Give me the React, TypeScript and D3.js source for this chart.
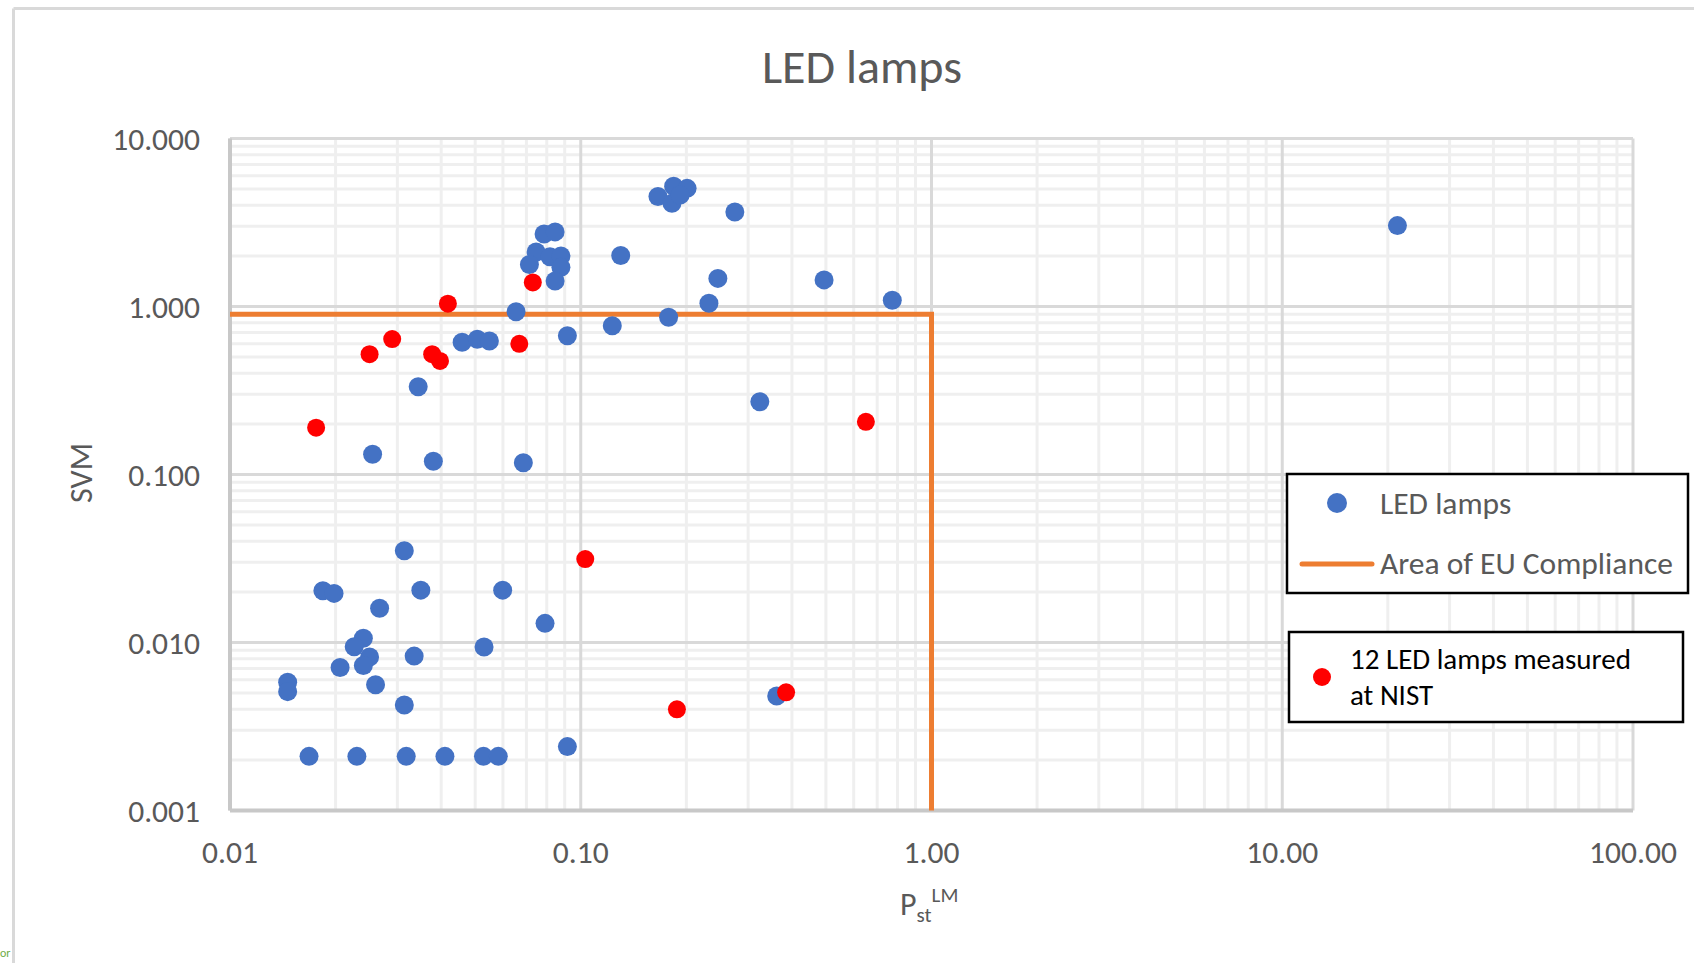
import React from "react";
import * as d3 from "d3";

// Pst(LM) and SVM values of the surveyed LED lamps
const ledPst = [
  0.0344, 0.0255, 0.038, 0.0686, 0.0459, 0.0507, 0.0549, 0.0654, 0.0916,
  0.0786, 0.0845, 0.0746, 0.0714, 0.0817, 0.0878, 0.0878, 0.0845,
  0.130, 0.123, 0.178, 0.232, 0.246,
  0.166, 0.184, 0.201, 0.182, 0.192,
  0.275, 0.494, 0.773, 0.324, 21.3,
  0.0314, 0.0184, 0.0198, 0.035, 0.0267, 0.0599, 0.0791, 0.024, 0.0226,
  0.025, 0.024, 0.0206, 0.0335, 0.053, 0.0146, 0.0146, 0.026, 0.0314,
  0.0168, 0.023, 0.0318, 0.041, 0.0528, 0.0582, 0.0916, 0.362,
];
const ledSvm = [
  0.333, 0.132, 0.120, 0.1175, 0.612, 0.638, 0.623, 0.931, 0.670,
  2.70, 2.78, 2.11, 1.78, 1.98, 2.00, 1.71, 1.42,
  2.01, 0.769, 0.862, 1.045, 1.47,
  4.52, 5.2, 5.05, 4.11, 4.61,
  3.65, 1.44, 1.09, 0.271, 3.03,
  0.0352, 0.0203, 0.0196, 0.0205, 0.016, 0.0205, 0.013, 0.0106, 0.00944,
  0.0082, 0.0073, 0.0071, 0.0083, 0.0094, 0.0058, 0.0051, 0.0056, 0.00425,
  0.0021, 0.0021, 0.0021, 0.0021, 0.0021, 0.0021, 0.0024, 0.0048,
];

// The 12 lamps measured at NIST
const nistPst = [0.0176, 0.025, 0.029, 0.0377, 0.0397, 0.0418, 0.0668, 0.073, 0.65, 0.103, 0.188, 0.385];
const nistSvm = [0.19, 0.52, 0.64, 0.52, 0.474, 1.04, 0.60, 1.39, 0.206, 0.0314, 0.0040, 0.00505];

// Boundary of the EU compliance region (SVM <= 0.9, Pst <= 1)
const euPst = [0.01, 1.0, 1.0];
const euSvm = [0.9, 0.9, 0.001];

const xTicks = [0.01, 0.1, 1, 10, 100];
const xTickLabels = ["0.01", "0.10", "1.00", "10.00", "100.00"];
const yTicks = [0.001, 0.01, 0.1, 1, 10];
const yTickLabels = ["0.001", "0.010", "0.100", "1.000", "10.000"];

const FONT = "Carlito, Calibri, Lato, 'Open Sans', sans-serif";
const GREY_TEXT = "#595959";

export default function App() {
  const left = 230, right = 1633, top = 138.5, bottom = 810.5;
  const x = d3.scaleLog().domain([0.01, 100]).range([left, right]);
  const y = d3.scaleLog().domain([0.001, 10]).range([bottom, top]);

  const minorX: number[] = [];
  for (let e = -2; e < 2; e++) for (let m = 2; m <= 9; m++) minorX.push(m * Math.pow(10, e));
  const minorY: number[] = [];
  for (let e = -3; e < 1; e++) for (let m = 2; m <= 9; m++) minorY.push(m * Math.pow(10, e));

  const euLine = d3
    .line<number>()
    .x((_, i) => x(euPst[i]))
    .y((_, i) => y(euSvm[i]))(euPst.map((_, i) => i));

  return (
    <div style={{ position: "absolute", left: 0, top: 0 }}>
      <svg width={1694} height={963} style={{ display: "block", background: "#fff" }} fontFamily={FONT}>
        {/* chart frame */}
        <line x1={13.5} y1={8.5} x2={1694} y2={8.5} stroke="#d9d9d9" strokeWidth={3} />
        <line x1={13.5} y1={8.5} x2={13.5} y2={963} stroke="#d9d9d9" strokeWidth={3} />
        <text x={0} y={957} fontSize={12} fill="#70ad47">or</text>

        <text x={862} y={66} textAnchor="middle" dominantBaseline="central" fontSize={48} fill={GREY_TEXT}>
          LED lamps
        </text>

        {/* minor gridlines */}
        <g stroke="#efefef" strokeWidth={3}>
          {minorX.map((v) => (
            <line key={"mx" + v} x1={x(v)} x2={x(v)} y1={top} y2={bottom} />
          ))}
          {minorY.map((v) => (
            <line key={"my" + v} x1={left} x2={right} y1={y(v)} y2={y(v)} />
          ))}
        </g>
        {/* major gridlines */}
        <g stroke="#d9d9d9" strokeWidth={3}>
          {xTicks.map((v) => (
            <line key={"Mx" + v} x1={x(v)} x2={x(v)} y1={top} y2={bottom} />
          ))}
          {yTicks.map((v) => (
            <line key={"My" + v} x1={left} x2={right} y1={y(v)} y2={y(v)} />
          ))}
        </g>
        {/* axes */}
        <line x1={left} x2={left} y1={top} y2={bottom} stroke="#c8c8c8" strokeWidth={4} />
        <line x1={left} x2={right} y1={bottom} y2={bottom} stroke="#c8c8c8" strokeWidth={4} />

        {/* tick labels */}
        {yTicks.map((v, i) => (
          <text key={"yl" + v} x={200} y={y(v)} textAnchor="end" dominantBaseline="central" fontSize={31.5} fill={GREY_TEXT}>
            {yTickLabels[i]}
          </text>
        ))}
        {xTicks.map((v, i) => (
          <text key={"xl" + v} x={x(v)} y={852} textAnchor="middle" dominantBaseline="central" fontSize={31.5} fill={GREY_TEXT}>
            {xTickLabels[i]}
          </text>
        ))}

        {/* axis titles */}
        <text x={900} y={915} fontSize={32} fill={GREY_TEXT}>
          P<tspan fontSize={21} dy={7}>st</tspan>
          <tspan fontSize={21} dy={-20}>LM</tspan>
        </text>
        <text
          transform={`translate(81,473) rotate(-90)`}
          textAnchor="middle"
          dominantBaseline="central"
          fontSize={32}
          fill={GREY_TEXT}
        >
          SVM
        </text>

        {/* EU compliance boundary */}
        <path d={euLine ?? ""} fill="none" stroke="#ed7d31" strokeWidth={5} />

        {/* LED lamps */}
        <g fill="#4472c4">
          {ledPst.map((p, i) => (
            <circle key={"b" + i} cx={x(p)} cy={y(ledSvm[i])} r={9.5} />
          ))}
        </g>
        {/* NIST lamps */}
        <g fill="#ff0000">
          {nistPst.map((p, i) => (
            <circle key={"r" + i} cx={x(p)} cy={y(nistSvm[i])} r={9} />
          ))}
        </g>

        {/* legend */}
        <rect x={1287} y={474} width={401} height={119} fill="#fff" stroke="#000" strokeWidth={2.5} />
        <circle cx={1337} cy={503} r={10} fill="#4472c4" />
        <text x={1380} y={503} dominantBaseline="central" fontSize={31.5} fill={GREY_TEXT}>LED lamps</text>
        <line x1={1302} x2={1372} y1={564} y2={564} stroke="#ed7d31" strokeWidth={5} strokeLinecap="round" />
        <text x={1380} y={563} dominantBaseline="central" fontSize={31.5} fill={GREY_TEXT}>Area of EU Compliance</text>

        <rect x={1289} y={632} width={394} height={90} fill="#fff" stroke="#000" strokeWidth={2.5} />
        <circle cx={1322} cy={677} r={9} fill="#ff0000" />
        <text x={1350} y={659} dominantBaseline="central" fontSize={29} fill="#000">12 LED lamps measured</text>
        <text x={1350} y={695} dominantBaseline="central" fontSize={29} fill="#000">at NIST</text>
      </svg>
    </div>
  );
}
